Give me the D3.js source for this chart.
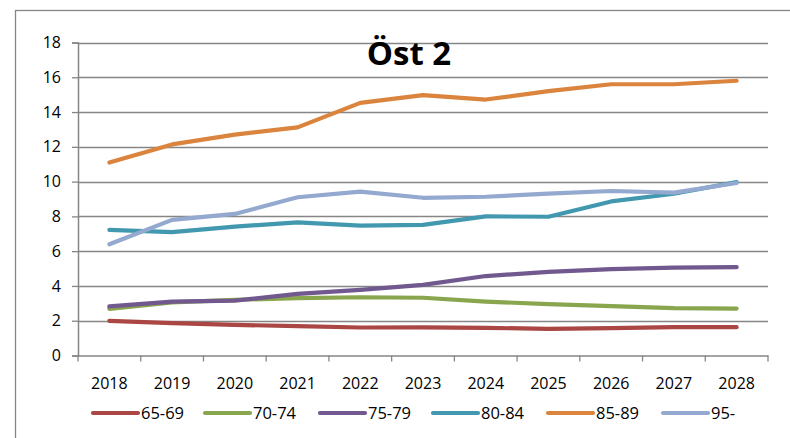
<!DOCTYPE html>
<html><head><meta charset="utf-8">
<script src="https://cdn.jsdelivr.net/npm/d3@7/dist/d3.min.js"></script>
<style>
html,body{margin:0;padding:0;background:#fff;}
text{font-family:"Open Sans",sans-serif;fill:#000;}
</style></head>
<body><svg id="c" width="790" height="438"></svg>
<script>
const years = ["2018","2019","2020","2021","2022","2023","2024","2025","2026","2027","2028"];
const yTicks = [0,2,4,6,8,10,12,14,16,18];
const seriesNames = ["65-69","70-74","75-79","80-84","85-89","95-"];
const seriesColors = ["#AA4643","#89A54E","#71588F","#4198AF","#DB843D","#93A9CF"];
const s6569 = [1.99,1.86,1.76,1.69,1.61,1.62,1.59,1.53,1.58,1.63,1.63];
const s7074 = [2.68,3.05,3.2,3.3,3.35,3.32,3.1,2.95,2.84,2.73,2.7];
const s7579 = [2.82,3.1,3.16,3.54,3.77,4.06,4.57,4.81,4.97,5.05,5.08];
const s8084 = [7.22,7.09,7.41,7.66,7.47,7.51,8.0,7.98,8.86,9.3,9.97];
const s8589 = [11.1,12.14,12.7,13.12,14.53,14.97,14.72,15.2,15.6,15.6,15.8];
const s95 = [6.4,7.8,8.14,9.1,9.42,9.07,9.13,9.31,9.46,9.37,9.92];
const title = "Öst 2";

const data = [s6569,s7074,s7579,s8084,s8589,s95];
const svg = d3.select("#c");
const grey = "#868686";
const L = 78, R = 768, T = 42.5, B = 355.5;

svg.append("rect").attr("x",15.5).attr("y",10.5).attr("width",800).attr("height",460)
  .attr("fill","none").attr("stroke",grey).attr("stroke-width",1.3);

const x = d3.scaleBand().domain(years).range([L,R]).padding(0);
const y = d3.scaleLinear().domain([0,18]).range([B,T]);

// gridlines
svg.append("g").selectAll("line").data(yTicks.filter(d=>d>0)).join("line")
  .attr("x1",L).attr("x2",R).attr("y1",d=>Math.round(y(d))+0.5).attr("y2",d=>Math.round(y(d))+0.5)
  .attr("stroke",grey).attr("stroke-width",1.3);

// y axis
const ya = svg.append("g").attr("transform",`translate(${L},0)`)
  .call(d3.axisLeft(y).tickValues(yTicks).tickSize(6).tickPadding(11).tickFormat(d3.format("d")));
ya.select(".domain").attr("stroke",grey).attr("stroke-width",1.5);
ya.selectAll(".tick line").attr("stroke",grey).attr("stroke-width",1.3);
ya.selectAll("text").attr("font-size",16).attr("font-family","Open Sans").attr("fill","#000");

// x axis
const xa = svg.append("g").attr("transform",`translate(0,${B})`)
  .call(d3.axisBottom(x).tickSize(0).tickPadding(22));
xa.select(".domain").attr("stroke",grey).attr("stroke-width",1.5);
xa.selectAll("text").attr("font-size",16).attr("font-family","Open Sans").attr("fill","#000");
// boundary tick marks
svg.append("g").selectAll("line").data(d3.range(years.length+1)).join("line")
  .attr("x1",i=>L+i*x.bandwidth()).attr("x2",i=>L+i*x.bandwidth())
  .attr("y1",B).attr("y2",B+6).attr("stroke",grey).attr("stroke-width",1.3);

// lines
const line = d3.line().x((d,i)=>x(years[i])+x.bandwidth()/2).y(d=>y(d));
svg.append("g").selectAll("path").data(data).join("path")
  .attr("d",line).attr("fill","none")
  .attr("stroke",(d,i)=>seriesColors[i]).attr("stroke-width",4.2)
  .attr("stroke-linecap","round").attr("stroke-linejoin","round");

// title
svg.append("text").attr("x",409).attr("y",65).attr("text-anchor","middle")
  .attr("font-size",33).attr("font-weight","bold").text(title);

// legend
const legX = [93,205,320,433,548,663];
const lg = svg.append("g").selectAll("g").data(seriesNames).join("g")
  .attr("transform",(d,i)=>`translate(${legX[i]},413)`);
lg.append("line").attr("x1",0).attr("x2",45).attr("y1",0).attr("y2",0)
  .attr("stroke",(d,i)=>seriesColors[i]).attr("stroke-width",4.2).attr("stroke-linecap","round");
lg.append("text").attr("x",48).attr("y",6).attr("font-size",16.5).text(d=>d);
</script></body></html>
